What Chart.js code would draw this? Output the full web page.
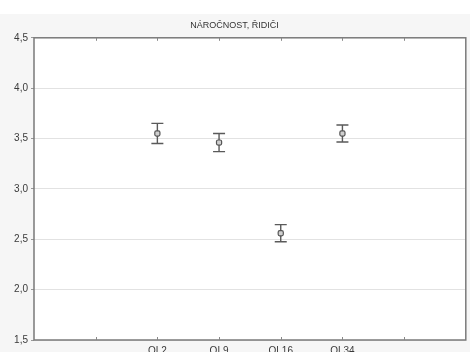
<!DOCTYPE html>
<html>
<head>
<meta charset="utf-8">
<script src="https://cdn.jsdelivr.net/npm/chart.js@4"></script>
<style>
    html, body { margin: 0; padding: 0; background: #fff; }
    #wrap { width: 470px; height: 352px; }
</style>
</head>
<body>
<div id="wrap"><canvas id="myChart" width="470" height="352"></canvas></div>
<script>
/* průměry a chyby - náročnost, řidiči */
const kategorie = ['OL2', 'OL9', 'OL16', 'OL34'];
const pozice = [2, 3, 4, 5];
const prumery = [3.55, 3.46, 2.56, 3.55];
const chyby = [0.10, 0.09, 0.085, 0.085];
const yTicks = [1.5, 2.0, 2.5, 3.0, 3.5, 4.0, 4.5];

let body = [];
for (let i = 0; i < prumery.length; i++) {
    body.push({ x: pozice[i], y: prumery[i] });
}

// pozadí okolo grafu + rámeček plochy
const ramecek = {
    id: 'ramecek',
    beforeDraw: function (chart) {
        let c = chart.ctx;
        let a = chart.chartArea;
        c.save();
        c.fillStyle = '#f6f6f6';
        c.fillRect(0, 14, chart.width, chart.height - 14);
        c.fillStyle = '#ffffff';
        c.fillRect(a.left, a.top, a.right - a.left, a.bottom - a.top);
        c.restore();
    },
    afterDraw: function (chart) {
        let c = chart.ctx;
        let a = chart.chartArea;
        let xs = chart.scales.x;
        c.save();
        c.strokeStyle = '#7a7a7a';
        c.lineWidth = 1.5;
        c.strokeRect(a.left, a.top, a.right - a.left, a.bottom - a.top);
        // malé značky dovnitř nahoře a dole
        c.lineWidth = 1;
        c.strokeStyle = '#888';
        for (let v = 1; v <= 6; v++) {
            let px = Math.round(xs.getPixelForValue(v)) + 0.5;
            c.beginPath();
            c.moveTo(px, a.top);
            c.lineTo(px, a.top + 3);
            c.moveTo(px, a.bottom);
            c.lineTo(px, a.bottom - 3);
            c.stroke();
        }
        c.restore();
    }
};

// chybové úsečky
const chybovky = {
    id: 'chybovky',
    beforeDatasetsDraw: function (chart) {
        let c = chart.ctx;
        let xs = chart.scales.x;
        let ys = chart.scales.y;
        c.save();
        c.strokeStyle = '#5a5a5a';
        c.lineWidth = 1.4;
        for (let i = 0; i < prumery.length; i++) {
            let px = xs.getPixelForValue(pozice[i]);
            let top = ys.getPixelForValue(prumery[i] + chyby[i]);
            let bot = ys.getPixelForValue(prumery[i] - chyby[i]);
            c.beginPath();
            c.moveTo(px, top);
            c.lineTo(px, bot);
            c.moveTo(px - 6, top);
            c.lineTo(px + 6, top);
            c.moveTo(px - 6, bot);
            c.lineTo(px + 6, bot);
            c.stroke();
        }
        c.restore();
    }
};

let ctx = document.getElementById('myChart').getContext('2d');

let myChart = new Chart(ctx, {
    type: 'scatter',
    data: {
        datasets: [{
            data: body,
            pointStyle: 'rectRounded',
            pointRadius: 3,
            pointHoverRadius: 3,
            backgroundColor: '#cfcfcf',
            borderColor: '#555',
            borderWidth: 1.2
        }]
    },
    options: {
        responsive: false,
        animation: false,
        layout: {
            padding: { left: 0, right: 1, top: 0, bottom: 0 }
        },
        plugins: {
            legend: { display: false },
            tooltip: { enabled: false },
            title: {
                display: true,
                text: 'NÁROČNOST, ŘIDIČI',
                color: '#333',
                font: { family: 'Liberation Sans', size: 9, weight: 'normal' },
                padding: { top: 20, bottom: 7 }
            }
        },
        scales: {
            x: {
                type: 'linear',
                min: 0,
                max: 7,
                afterBuildTicks: function (scale) {
                    scale.ticks = [1, 2, 3, 4, 5, 6].map(function (v) { return { value: v }; });
                },
                afterFit: function (scale) { scale.height = 12; },
                grid: { display: false, drawTicks: false },
                border: { display: false },
                ticks: {
                    autoSkip: false,
                    maxRotation: 0,
                    padding: 5,
                    color: '#3a3a3a',
                    font: { family: 'Liberation Sans', size: 10 },
                    callback: function (v) {
                        let i = pozice.indexOf(v);
                        return i >= 0 ? kategorie[i] : '';
                    }
                }
            },
            y: {
                min: 1.5,
                max: 4.5,
                afterBuildTicks: function (scale) {
                    scale.ticks = yTicks.map(function (v) { return { value: v }; });
                },
                afterFit: function (scale) { scale.width = 34; },
                grid: {
                    color: '#e2e2e2',
                    lineWidth: 1,
                    tickLength: 3,
                    tickColor: '#999'
                },
                border: { display: false },
                ticks: {
                    padding: 3,
                    color: '#3a3a3a',
                    font: { family: 'Liberation Sans', size: 10 },
                    callback: function (v) { return v.toFixed(1).replace('.', ','); }
                }
            }
        }
    },
    plugins: [ramecek, chybovky]
});
</script>
</body>
</html>
